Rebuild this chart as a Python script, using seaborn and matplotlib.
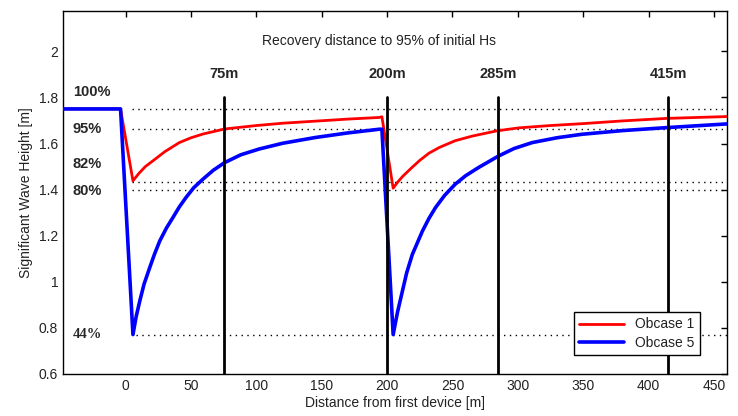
import numpy as np
import pandas as pd
import matplotlib
matplotlib.use('Agg')
import matplotlib.pyplot as plt
import seaborn as sns

# values
red_x = [-50, -4, 5.5, 10, 15, 20.8, 30, 41, 50, 59, 75.6, 100, 120, 145, 170, 194, 196,
         204.6, 208, 212, 219, 225, 232, 240, 252, 265, 284, 301, 325, 349, 380, 414, 460]
red_y = [1.75, 1.75, 1.438, 1.47, 1.50, 1.525, 1.565, 1.604, 1.625, 1.641, 1.663, 1.678, 1.688,
         1.697, 1.706, 1.713, 1.716,
         1.406, 1.432, 1.458, 1.496, 1.527, 1.558, 1.583, 1.612, 1.632, 1.655, 1.668, 1.678,
         1.686, 1.698, 1.709, 1.717]

blue_x = [-50, -4, 5.5, 8, 10.7, 14, 18.3, 22, 26, 31, 36, 41, 46, 52, 59, 67, 75.6, 88, 102,
          120, 145, 170, 194, 196,
          204.6, 208, 211.7, 215, 219.3, 227, 232, 237, 244, 252, 260, 270, 285, 297, 311, 330,
          349, 380, 414, 460]
blue_y = [1.75, 1.75, 0.771, 0.85, 0.916, 0.99, 1.061, 1.12, 1.177, 1.232, 1.278, 1.325, 1.365,
          1.408, 1.445, 1.484, 1.517, 1.551, 1.576, 1.601, 1.626, 1.646, 1.662, 1.662,
          0.771, 0.87, 0.96, 1.04, 1.119, 1.22, 1.275, 1.322, 1.375, 1.423, 1.46, 1.496, 1.545,
          1.578, 1.604, 1.625, 1.64, 1.656, 1.669, 1.685]

recovery_x = [75, 200, 285, 415]
recovery_labels = ['75m', '200m', '285m', '415m']

pct_levels = [1.75, 1.6625, 1.435, 1.40, 0.771]
pct_labels = ['100%', '95%', '82%', '80%', '44%']
pct_label_y = [1.825, 1.664, 1.512, 1.394, 0.771]

df = pd.concat([
    pd.DataFrame({'x': red_x, 'y': red_y, 'case': 'Obcase 1'}),
    pd.DataFrame({'x': blue_x, 'y': blue_y, 'case': 'Obcase 5'}),
])

sns.set_style('white')
plt.rcParams['font.family'] = ['Liberation Sans', 'DejaVu Sans']
plt.rcParams['xtick.direction'] = 'in'
plt.rcParams['ytick.direction'] = 'in'

fig = plt.figure(figsize=(7.38, 4.16), dpi=100)
ax = fig.add_axes([0.0854, 0.101, 0.8996, 0.8726])

# dotted reference levels
for lvl in pct_levels:
    x0 = 8 if lvl < 1 else 5
    ax.plot([x0, 460], [lvl, lvl], color='black', lw=1, ls=(0, (1, 3.2)), zorder=1)

sns.lineplot(data=df[df.case == 'Obcase 1'], x='x', y='y', color='#ff0000', lw=2,
             label='Obcase 1', ax=ax, sort=False, estimator=None, zorder=3)
sns.lineplot(data=df[df.case == 'Obcase 5'], x='x', y='y', color='#0000ff', lw=2.6,
             label='Obcase 5', ax=ax, sort=False, estimator=None, zorder=4)

for xv, lab in zip(recovery_x, recovery_labels):
    ax.plot([xv, xv], [0.6, 1.8], color='black', lw=2, zorder=5)
    ax.text(xv, 1.90, lab, ha='center', va='center', fontsize=10.5, fontweight='bold')

for lab, yv in zip(pct_labels, pct_label_y):
    fam = ['Liberation Serif'] if lab == '44%' else ['Liberation Sans']
    ax.text(-40.5, yv, lab, ha='left', va='center', fontsize=10.5,
            fontweight='bold', family=fam)

ax.text(194, 2.046, 'Recovery distance to 95% of initial Hs', ha='center', va='center',
        fontsize=10, color='#222222')

ax.set_xlim(-48, 460)
ax.set_ylim(0.6, 2.175)
ax.set_xticks(np.arange(0, 451, 50))
ax.set_yticks([0.6, 0.8, 1, 1.2, 1.4, 1.6, 1.8, 2])
ax.set_yticklabels(['0.6', '0.8', '1', '1.2', '1.4', '1.6', '1.8', '2'])
ax.tick_params(top=True, right=True, length=4, width=1, labelsize=10,
               labelcolor='#222222', color='black')
for s in ax.spines.values():
    s.set_color('black')
    s.set_linewidth(1)

ax.set_xlabel('Distance from first device [m]', fontsize=10, color='#222222', labelpad=2)
ax.set_ylabel('Significant Wave Height [m]', fontsize=10, color='#222222', labelpad=4)

leg = ax.legend(loc='lower right', bbox_to_anchor=(0.959, 0.052), borderaxespad=0,
                fancybox=False, framealpha=1, edgecolor='black', fontsize=10,
                handlelength=3.2, borderpad=0.4, labelspacing=0.3)
leg.get_frame().set_linewidth(1)
for t in leg.get_texts():
    t.set_color('#222222')

fig.savefig('out.png', dpi=100)
